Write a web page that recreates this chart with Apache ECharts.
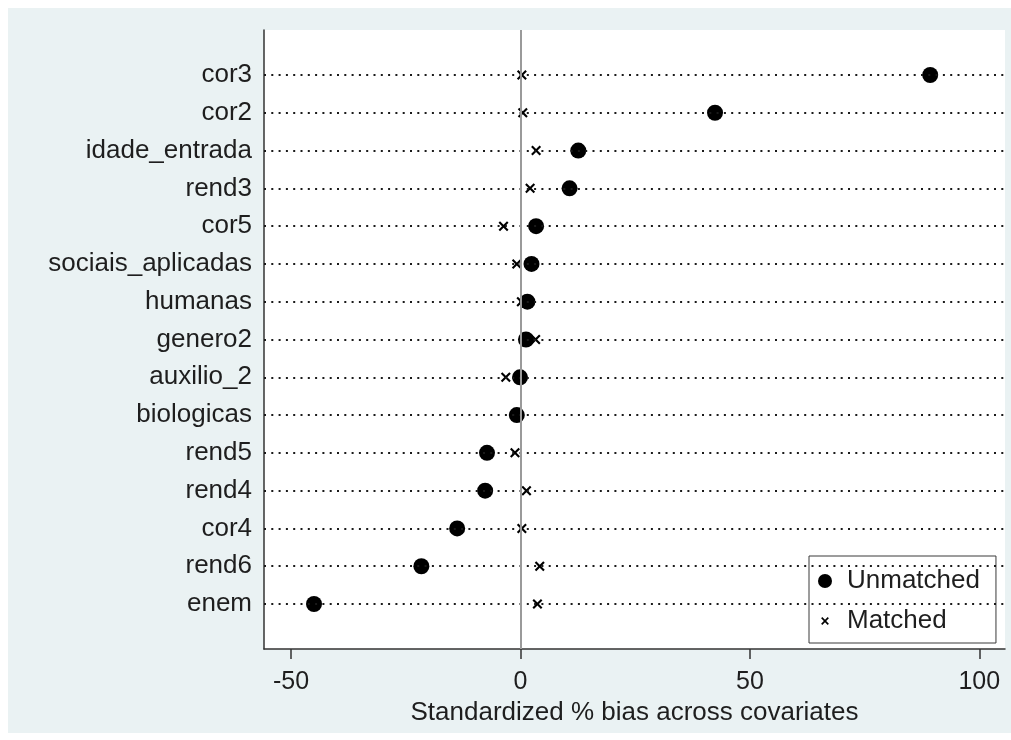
<!DOCTYPE html>
<html>
<head>
<meta charset="utf-8">
<script src="https://cdn.jsdelivr.net/npm/echarts@6/dist/echarts.min.js"></script>
<style>
html,body{margin:0;padding:0;background:#fff;}
#chart{width:1011px;height:740px;}
</style>
</head>
<body>
<div id="chart"></div>
<script>
// Covariates, listed top to bottom
const covariates = ['cor3','cor2','idade_entrada','rend3','cor5','sociais_aplicadas','humanas','genero2','auxilio_2','biologicas','rend5','rend4','cor4','rend6','enem'];
// Standardized % bias
const unmatched = [89.3, 42.4, 12.6, 10.7, 3.4, 2.4, 1.5, 1.2, -0.1, -0.8, -7.3, -7.7, -13.8, -21.6, -45.0];
const matched   = [0.3, 0.5, 3.4, 2.1, -3.7, -0.8, 0.2, 3.3, -3.2, -0.6, -1.2, 1.3, 0.3, 4.2, 3.7];
const xTicks = [-50, 0, 50, 100];
const seriesNames = ['Unmatched', 'Matched'];

const n = covariates.length;
const rowPos = covariates.map((_, i) => n - i);
const FONT = "'Liberation Sans', Arial, sans-serif";
const TXT = '#1e1e1e';
const xShape = 'path://M1.5,0 L5,3.5 L8.5,0 L10,1.5 L6.5,5 L10,8.5 L8.5,10 L5,6.5 L1.5,10 L0,8.5 L3.5,5 L0,1.5 Z';
const xLegend = 'path://M-4,-4 M14,14 M1.5,0 L5,3.5 L8.5,0 L10,1.5 L6.5,5 L10,8.5 L8.5,10 L5,6.5 L1.5,10 L0,8.5 L3.5,5 L0,1.5 Z';

const chart = echarts.init(document.getElementById('chart'), null, {renderer: 'canvas'});
chart.setOption({
  backgroundColor: '#ffffff',
  animation: false,
  graphic: [{
    type: 'rect', z: -100, silent: true,
    shape: {x: 8, y: 8, width: 1003, height: 725},
    style: {fill: '#eaf2f3'}
  }],
  grid: {
    left: 264, right: 6, top: 30, bottom: 91,
    show: true, backgroundColor: '#ffffff', borderWidth: 0,
    containLabel: false, outerBoundsMode: 'none'
  },
  legend: {
    orient: 'vertical',
    left: 809, top: 556,
    padding: [11, 16, 8, 9],
    itemGap: 12,
    itemWidth: 14, itemHeight: 14,
    backgroundColor: '#ffffff',
    borderColor: '#3a3a3a', borderWidth: 1,
    textStyle: {fontSize: 26, fontFamily: FONT, color: TXT, lineHeight: 26, padding: [2, 0, 0, 10]},
    data: [
      {name: seriesNames[0], icon: 'circle'},
      {name: seriesNames[1], icon: xLegend}
    ]
  },
  xAxis: {
    type: 'value',
    min: -55.9, max: 105.6,
    name: 'Standardized % bias across covariates',
    nameLocation: 'middle', nameGap: 51,
    nameTextStyle: {fontSize: 26, fontFamily: FONT, color: TXT},
    axisLine: {show: true, onZero: false, lineStyle: {color: '#333', width: 1.5}},
    axisTick: {show: true, customValues: xTicks, length: 10, lineStyle: {color: '#333', width: 1.5}},
    axisLabel: {customValues: xTicks, fontSize: 25, fontFamily: FONT, color: TXT, margin: 21},
    splitLine: {show: false}
  },
  yAxis: {
    type: 'value',
    min: -0.19, max: 16.19,
    axisLine: {show: true, onZero: false, lineStyle: {color: '#333', width: 1.5}},
    axisTick: {show: false},
    axisLabel: {
      customValues: rowPos,
      fontSize: 26, fontFamily: FONT, color: TXT, margin: 12,
      padding: [3, 0, 0, 0],
      formatter: v => covariates[n - v]
    },
    splitLine: {show: false}
  },
  series: [
    {
      name: 'grid-lines', type: 'scatter', data: [], z: 1, silent: true,
      markLine: {
        silent: true, symbol: 'none', animation: false,
        label: {show: false},
        lineStyle: {type: [2, 5.3], color: '#1a1a1a', width: 1.8},
        data: rowPos.map(p => ({yAxis: p})).concat([
          {xAxis: 0, lineStyle: {type: 'solid', color: '#9a9a9a', width: 2}}
        ])
      }
    },
    {
      name: seriesNames[0], type: 'scatter', z: 3,
      symbol: 'circle', symbolSize: 16,
      itemStyle: {color: '#000000', opacity: 1},
      data: unmatched.map((v, i) => [v, rowPos[i]])
    },
    {
      name: seriesNames[1], type: 'scatter', z: 4,
      symbol: xShape, symbolSize: 10,
      itemStyle: {color: '#000000', opacity: 1},
      data: matched.map((v, i) => [v, rowPos[i]])
    }
  ]
});
</script>
</body>
</html>
